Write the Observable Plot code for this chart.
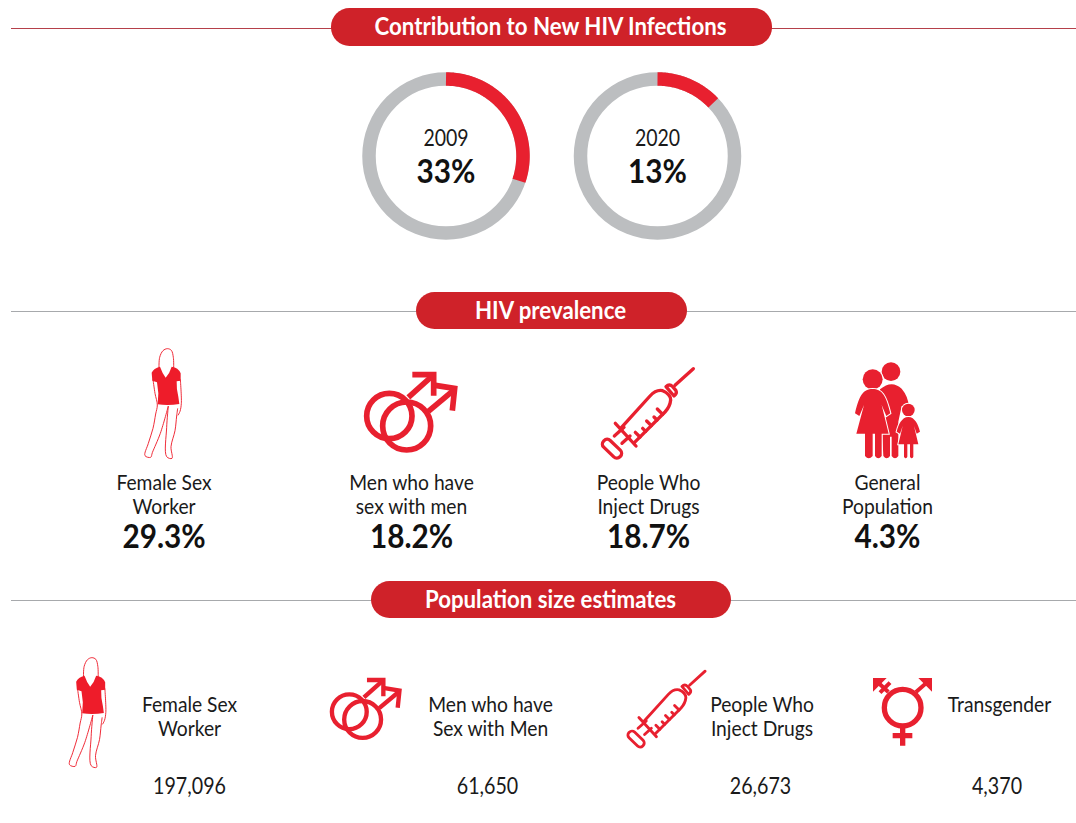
<!DOCTYPE html>
<html>
<head>
<meta charset="utf-8">
<script src="https://cdn.jsdelivr.net/npm/d3@7"></script>
<script src="https://cdn.jsdelivr.net/npm/@observablehq/plot@0.6"></script>
<style>
  html, body { margin: 0; padding: 0; background: #fff; }
  svg { display: block; }
</style>
</head>
<body>
<div id="chart"></div>
<script>
// ---- data ----
const sectionTitles = ["Contribution to New HIV Infections", "HIV prevalence", "Population size estimates"];
const years = ["2009", "2020"];
const contributionLabels = ["33%", "13%"];
const arcShares = [30.2, 12.9]; // share of ring painted red, as drawn in the picture
const prevalenceGroups = ["Female Sex\nWorker", "Men who have\nsex with men", "People Who\nInject Drugs", "General\nPopulation"];
const prevalenceValues = ["29.3%", "18.2%", "18.7%", "4.3%"];
const sizeGroups = ["Female Sex\nWorker", "Men who have\nSex with Men", "People Who\nInject Drugs", "Transgender"];
const sizeValues = ["197,096", "61,650", "26,673", "4,370"];

// ---- layout (pixels on an identity scale) ----
const FONT = "Lato, sans-serif";
const RED = "#e8202f", PILL = "#cf2229", GREY = "#bcbec0", INK = "#1a1a1a";
const pills = [
  {x1: 331, x2: 772, y1: 8, y2: 46, ly: 28, line: "#b5404a"},
  {x1: 416, x2: 687, y1: 292, y2: 329, ly: 311, line: "#a7a9ac"},
  {x1: 371, x2: 731, y1: 581, y2: 618, ly: 600, line: "#a7a9ac"}
].map((p, i) => ({...p, title: sectionTitles[i], cx: 550, cy: (p.y1 + p.y2) / 2 - 0.5}));
const ringX = [445.5, 657], ringY = 155.5, ringR = 77;
const rings = years.map((year, i) => ({year, label: contributionLabels[i], x: ringX[i], share: arcShares[i]}));
const arcPoints = rings.flatMap(r => d3.range(0, r.share + 0.01, r.share / 60).map(p => {
  const a = p / 100 * 2 * Math.PI;
  return {year: r.year, x: r.x + ringR * Math.sin(a), y: ringY - ringR * Math.cos(a)};
}));
const prevX = [163.5, 411, 648, 887];
const prev = prevalenceGroups.map((g, i) => ({g, v: prevalenceValues[i], x: prevX[i]}));
const sizeX = [189, 490, 761.5, 999];
const sizeVX = [189, 487, 760, 996.5];
const sizes = sizeGroups.map((g, i) => ({g, v: sizeValues[i], x: sizeX[i], vx: sizeVX[i], y: g.includes("\n") ? 716 : 704}));
// horizontal squeeze per text size: the reference face is condensed
const squeeze = {25: 0.89, 22: 0.875, 24: 0.82, 23.5: 0.83, 32: 0.93};

// ---- icons, drawn in their own local units ----
const curve = d3.line().curve(d3.curveCatmullRom.alpha(0.5));
const womanOutline = [
  [[72,85],[74,52],[84,32],[97,26],[109,31],[115,52],[116,85]],
  [[54,118],[60,160],[67,195],[62,222],[54,265],[40,310],[30,347],[47,352],[52,338],[76,280],[100,198]],
  [[100,198],[95,262],[95,350],[111,355],[108,320],[120,272],[125,228],[128,205]],
  [[136,118],[139,190],[135,214],[129,226]]
];
const womanDress = "M50 98 Q56 84 75 80 Q82 100 92 113 Q104 100 110 80 Q130 82 137 100 L137 122 L125 124 Q124 145 130 170 L133 192 Q100 198 68 193 L70 160 L66 127 L52 122 Z";
const femaleIcon = g => {
  g.append("path").attr("d", womanDress).attr("fill", "#ee1c2a");
  for (const o of womanOutline) g.append("path").attr("d", curve(o)).attr("fill", "none").attr("stroke", "#ee1c2a").attr("stroke-width", 2.8);
};
const maleIcon = g => {
  const s = g.append("g").attr("fill", "none").attr("stroke", RED).attr("stroke-width", 17);
  s.append("circle").attr("cx", 868).attr("cy", 228).attr("r", 68);
  s.append("circle").attr("cx", 920).attr("cy", 258).attr("r", 72);
  s.append("path").attr("d", "M925 172 L1000 105");
  s.append("path").attr("d", "M985 214 L1064 148");
  s.append("path").attr("d", "M937 104 L1001 104 L1001 167");
  s.append("path").attr("d", "M1006 136 L1064 145 L1057 212");
};
const syringeIcon = g => {
  const s = g.append("g").attr("fill", "none").attr("stroke", RED).attr("stroke-width", 10).attr("stroke-linecap", "round").attr("stroke-linejoin", "round");
  s.append("path").attr("d", "M340 56 L285 106");
  s.append("path").attr("d", "M258 110 Q268 100 278 110 L288 122 Q292 130 282 138 Z");
  s.append("path").attr("d", "M124 233 L210 138 Q228 118 248 122 Q272 132 272 150 Q270 170 255 186 L163 278");
  s.append("path").attr("d", "M106 220 L168 288");
  s.append("path").attr("d", "M180 261 L166 247 M197 244 L188 235 M214 227 L200 213 M231 210 L222 201 M248 193 L232 177");
  s.append("path").attr("d", "M103 258 L132 232 M126 280 L150 258");
  s.append("rect").attr("x", -34).attr("y", -14).attr("width", 68).attr("height", 28).attr("rx", 13).attr("transform", "translate(96 296) rotate(44)");
};
const familyIcon = g => {
  g.append("circle").attr("cx", 933).attr("cy", 65).attr("r", 28).attr("fill", RED);
  g.append("path").attr("fill", RED).attr("d", "M900 118 Q935 88 965 116 Q985 140 986 168 L965 168 L955 215 L955 318 Q945 332 935 318 L935 260 L930 260 L930 318 Q920 332 910 318 Z");
  const bodies = g.append("g").attr("fill", RED).attr("stroke", "#fff").attr("stroke-width", 6).attr("paint-order", "stroke");
  bodies.append("circle").attr("cx", 878).attr("cy", 88).attr("r", 30);
  bodies.append("path").attr("d", "M878 117 C905 117 918 135 931 190 L919 198 L905 165 L926 251 L905 251 L905 318 Q895 332 885 318 L885 251 L878 251 L878 318 Q866 332 855 318 L855 251 L829 251 L852 165 L838 198 L825 190 C838 135 850 117 878 117 Z");
  bodies.append("circle").attr("cx", 985).attr("cy", 180).attr("r", 19);
  bodies.append("path").attr("d", "M985 201 C1005 201 1015 225 1020 245 L1010 251 L1002 228 L1015 283 L1000 283 L1000 320 Q995 330 990 320 L990 283 L982 283 L982 320 Q977 330 972 320 L972 283 L955 283 L968 228 L960 251 L950 245 C955 225 965 201 985 201 Z");
};
const transIcon = g => {
  const s = g.append("g").attr("fill", "none").attr("stroke", RED);
  s.append("circle").attr("cx", 878).attr("cy", 173).attr("r", 55).attr("stroke-width", 16);
  s.append("path").attr("stroke-width", 16).attr("d", "M878 232 L878 287 M848 257 L907 257");
  s.append("path").attr("stroke-width", 12).attr("d", "M918 126 L955 94 M835 126 L800 94 M810 128 L840 98");
  g.append("path").attr("fill", RED).attr("d", "M925 84 L966 84 L966 125 Z M789 84 L830 84 L789 125 Z");
};
const icons = [
  {draw: femaleIcon, tx: 135, ty: 340, s: 1 / 3},
  {draw: maleIcon, tx: 100, ty: 340, s: 1 / 3},
  {draw: syringeIcon, tx: 580, ty: 350, s: 1 / 3},
  {draw: familyIcon, tx: 580, ty: 350, s: 1 / 3},
  {draw: femaleIcon, tx: 59.5, ty: 649, s: 1 / 3},
  {draw: maleIcon, tx: 127.1, ty: 653.4, s: 0.256},
  {draw: syringeIcon, tx: 608.9, ty: 655.3, s: 0.283},
  {draw: transIcon, tx: 610, ty: 650, s: 1 / 3}
];
const iconMark = () => {
  const root = d3.create("svg:g");
  for (const ic of icons) ic.draw(root.append("g").attr("transform", `translate(${ic.tx} ${ic.ty}) scale(${ic.s})`));
  return root.node();
};

// ---- chart ----
const chart = Plot.plot({
  width: 1076,
  height: 823,
  margin: 0,
  style: {background: "#fff", fontFamily: FONT},
  x: {axis: null, domain: [0, 1076], range: [0, 1076]},
  y: {axis: null, domain: [0, 823], range: [0, 823]},
  marks: [
    Plot.ruleY(pills, {y: "ly", x1: 11, x2: 1076, stroke: "line", strokeWidth: 1}),
    Plot.rect(pills, {x1: "x1", x2: "x2", y1: "y1", y2: "y2", fill: PILL, rx: 18.5}),
    Plot.text(pills, {x: "cx", y: "cy", text: "title", fill: "#fff", fontSize: 25, fontWeight: "bold", fontFamily: FONT}),
    Plot.dot(rings, {x: "x", y: () => ringY, r: ringR, stroke: GREY, strokeWidth: 13.5, fill: "none"}),
    Plot.line(arcPoints, {x: "x", y: "y", z: "year", stroke: RED, strokeWidth: 13.5, strokeLinecap: "butt", curve: "linear"}),
    Plot.text(rings, {x: "x", y: () => 137.5, text: "year", fontSize: 23.5, fill: INK, fontFamily: FONT}),
    Plot.text(rings, {x: "x", y: () => 172, text: "label", fontSize: 32, fontWeight: "bold", fill: "#111", fontFamily: FONT}),
    Plot.text(prev, {x: "x", y: () => 494, text: "g", fontSize: 22, lineHeight: 1.09, fill: INK, fontFamily: FONT}),
    Plot.text(prev, {x: "x", y: () => 537.5, text: "v", fontSize: 32, fontWeight: "bold", fill: "#111", fontFamily: FONT}),
    Plot.text(sizes, {x: "x", y: "y", text: "g", fontSize: 22, lineHeight: 1.09, fill: INK, fontFamily: FONT}),
    Plot.text(sizes, {x: "vx", y: () => 786, text: "v", fontSize: 24, fill: INK, fontFamily: FONT}),
    iconMark
  ]
});
d3.select(chart).selectAll("text").each(function () {
  const fs = +this.closest("[font-size]")?.getAttribute("font-size");
  const k = squeeze[fs] ?? 0.85;
  const t = this.getAttribute("transform") || "";
  this.setAttribute("transform", `${t} scale(${k} 1)`);
});
document.getElementById("chart").append(chart);
</script>
</body>
</html>
